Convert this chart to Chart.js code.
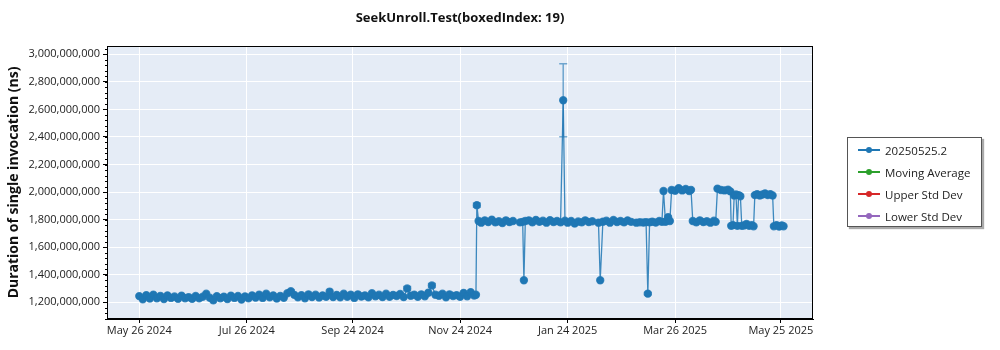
<!DOCTYPE html>
<html>
<head>
<meta charset="utf-8">
<script src="https://cdn.jsdelivr.net/npm/chart.js@4.4.1/dist/chart.umd.min.js"></script>
<style>
  body { margin: 0; background: #fff; font-family: "Open Sans", sans-serif; }
  #wrap { position: relative; width: 1000px; height: 350px; }
  #legend {
    position: absolute; left: 847px; top: 137px; width: 135px; height: 90px;
    border: 1px solid #555; background: #fff; box-shadow: 2px 2px 1px #aaa;
    box-sizing: border-box; padding-top: 1px;
  }
  .item { height: 22px; display: flex; align-items: center; font-size: 11.5px; color: #222; }
  .icon { position: relative; width: 22px; height: 2px; margin-left: 10px; margin-right: 5px; }
  .icon span { position: absolute; left: 8px; top: -2px; width: 6px; height: 6px; border-radius: 50%; }
</style>
</head>
<body>
<div id="wrap">
  <canvas id="chart" width="1000" height="350"></canvas>
  <div id="legend"></div>
</div>
<script>
// x values are days since May 26 2024
const tickDays = [0, 61, 121, 182, 243, 304, 364];
const tickLabels = ['May 26 2024', 'Jul 26 2024', 'Sep 24 2024', 'Nov 24 2024', 'Jan 24 2025', 'Mar 26 2025', 'May 25 2025'];
const yTickValues = [1200000000, 1400000000, 1600000000, 1800000000, 2000000000, 2200000000, 2400000000, 2600000000, 2800000000, 3000000000];

const legendNames = ['20250525.2', 'Moving Average', 'Upper Std Dev', 'Lower Std Dev'];
const legendColors = ['#1f77b4', '#2ca02c', '#d62728', '#9467bd'];

const days = [
  0, 2, 4, 6, 8, 10, 12, 14, 16, 18,
  20, 22, 24, 26, 28, 30, 32, 34, 36, 38,
  40, 42, 44, 46, 48, 50, 52, 54, 56, 58,
  60, 62, 64, 66, 68, 70, 72, 74, 76, 78,
  80, 82, 84, 86, 88, 90, 92, 94, 96, 98,
  100, 102, 104, 106, 108, 110, 112, 114, 116, 118,
  120, 122, 124, 126, 128, 130, 132, 134, 136, 138,
  140, 142, 144, 146, 148, 150, 152, 154, 156, 158,
  160, 162, 164, 166, 168, 170, 172, 174, 176, 178,
  180, 182, 184, 186, 188, 190, 191,
  191.5, 192.5, 194, 196, 198, 200, 202, 204, 206, 208, 210, 212,
  216, 217.5, 218.2, 219, 221, 223, 225, 227, 229, 231, 233, 235, 237, 239,
  240.5, 241.5, 243, 245, 247, 249, 251, 253, 255, 257, 260.5, 261.5,
  263, 265, 267, 269, 271, 273, 275, 277, 279,
  282, 284, 286, 287.5, 288.5, 289.5, 291, 293, 295, 296.5, 297.4, 298.5, 300, 301,
  302, 304, 306, 308, 310, 312, 313, 314, 316, 318, 320, 322, 324, 326, 327,
  328, 330, 332, 334, 335.3, 335.8, 336.8, 337.5, 338.5, 339.3, 340, 341, 341.8,
  343, 344.5, 346, 347.5, 348.5, 349.2, 350.5, 352, 353.5, 355, 356.5, 358, 359.3,
  360, 361.5, 363, 364.5, 365.5
];

// duration in millions of ns
const durations = [
  1245, 1222, 1252, 1228, 1256, 1230, 1247, 1224, 1250, 1232,
  1242, 1226, 1248, 1230, 1238, 1225, 1246, 1229, 1240, 1262,
  1233, 1214, 1245, 1230, 1241, 1224, 1248, 1232, 1246, 1220,
  1243, 1229, 1250, 1234, 1256, 1232, 1262, 1236, 1250, 1228,
  1247, 1233, 1266, 1280, 1254, 1236, 1252, 1230, 1258, 1238,
  1255, 1235, 1250, 1240, 1278, 1238, 1254, 1236, 1262, 1240,
  1256, 1232, 1258, 1242, 1250, 1236, 1266, 1244, 1255, 1238,
  1262, 1240, 1254, 1246, 1260, 1238, 1300, 1248, 1256, 1240,
  1258, 1244, 1270, 1322, 1255, 1248, 1262, 1236, 1258, 1246,
  1252, 1240, 1268, 1244, 1274, 1250, 1255,
  1905, 1790, 1778, 1795, 1782, 1800, 1780, 1788, 1776, 1795, 1782, 1790,
  1780, 1784, 1360, 1790, 1795, 1780, 1798, 1784, 1792, 1778, 1796, 1783, 1790, 1780,
  2666, 1792, 1778, 1790, 1772, 1786, 1780, 1795, 1782, 1788, 1778, 1360,
  1785, 1792, 1778, 1797, 1783, 1790, 1780, 1794, 1784,
  1778, 1781, 1779, 1782, 1263, 1780, 1785, 1779, 1790, 1784, 2008, 1785, 1818, 1790,
  2015, 2010, 2028, 2012, 2022, 2008, 2016, 1790, 1780, 1795, 1782, 1788, 1778, 1792, 1784,
  2025, 2015, 2012, 2018, 2005, 1755, 1760, 1975, 1982, 1755, 1978, 1970, 1755,
  1758, 1768, 1755, 1760, 1752, 1978, 1985, 1975, 1982, 1990, 1978, 1985, 1975,
  1752, 1760, 1750, 1758, 1752
];

// visible standard deviation bars (millions of ns)
const errDays = [86, 152, 166, 191.5, 240.5, 288.5];
const errSizes = [10, 14, 14, 16, 265, 8];

const points = days.map((d, i) => ({ x: d, y: durations[i] * 1e6 }));

const plotStyle = {
  id: 'plotStyle',
  beforeDraw(chart) {
    const { ctx, chartArea: a } = chart;
    ctx.save();
    ctx.fillStyle = '#e5ecf6';
    ctx.fillRect(a.left, a.top, a.right - a.left, a.bottom - a.top);
    ctx.restore();
  },
  afterDatasetsDraw(chart) {
    const { ctx } = chart;
    const xs = chart.scales.x, ys = chart.scales.y;
    ctx.save();
    ctx.strokeStyle = 'rgba(31,119,180,0.6)';
    ctx.lineWidth = 1.5;
    errDays.forEach((d, k) => {
      const i = days.indexOf(d);
      const x = xs.getPixelForValue(d);
      const hi = ys.getPixelForValue((durations[i] + errSizes[k]) * 1e6);
      const lo = ys.getPixelForValue((durations[i] - errSizes[k]) * 1e6);
      ctx.beginPath();
      ctx.moveTo(x, hi); ctx.lineTo(x, lo);
      ctx.moveTo(x - 4, hi); ctx.lineTo(x + 4, hi);
      ctx.moveTo(x - 4, lo); ctx.lineTo(x + 4, lo);
      ctx.stroke();
    });
    ctx.restore();
  },
  afterDraw(chart) {
    const { ctx, chartArea: a } = chart;
    const ys = chart.scales.y;
    ctx.save();
    ctx.strokeStyle = '#000';
    ctx.lineWidth = 1;
    ctx.strokeRect(a.left + 0.5, a.top + 0.5, a.right - a.left - 1, a.bottom - a.top - 1);
    // minor ticks on the y axis
    ctx.beginPath();
    for (let v = ys.min; v <= ys.max; v += 40000000) {
      const snapped = Math.ceil(v / 40000000) * 40000000;
      const y = Math.round(ys.getPixelForValue(snapped)) + 0.5;
      ctx.moveTo(a.left - 2, y); ctx.lineTo(a.left, y);
    }
    ctx.stroke();
    ctx.restore();
  }
};

new Chart(document.getElementById('chart'), {
  type: 'line',
  data: {
    datasets: [{
      label: legendNames[0],
      data: points,
      borderColor: 'rgba(31,119,180,0.85)',
      borderWidth: 1.3,
      pointRadius: 3.6,
      pointBackgroundColor: '#1f77b4',
      pointBorderColor: 'rgba(31,119,180,0.8)',
      pointBorderWidth: 1.2,
      tension: 0
    }]
  },
  options: {
    responsive: false,
    animation: false,
    layout: { padding: { left: 0, right: 187, top: 0, bottom: 0 } },
    plugins: {
      legend: { display: false },
      tooltip: { enabled: false },
      title: {
        display: true,
        fullSize: false,
        text: 'SeekUnroll.Test(boxedIndex: 19)',
        color: '#111',
        font: { family: 'Open Sans', size: 13, weight: 'bold' },
        padding: { top: 10, bottom: 20.4 }
      }
    },
    scales: {
      x: {
        type: 'linear',
        min: -18.3,
        max: 382.2,
        afterFit(s) { s.height = 31; },
        afterBuildTicks(s) { s.ticks = tickDays.map(v => ({ value: v })); },
        grid: { color: '#ffffff', lineWidth: 1, tickColor: '#000', tickLength: 4 },
        border: { display: true, color: '#000' },
        ticks: {
          autoSkip: false,
          maxRotation: 0,
          padding: 1,
          color: '#222',
          font: { family: 'Open Sans', size: 11 },
          callback: (v) => tickLabels[tickDays.indexOf(v)]
        }
      },
      y: {
        min: 1079000000,
        max: 3060000000,
        afterFit(s) { s.width = 107; },
        afterBuildTicks(s) { s.ticks = yTickValues.map(v => ({ value: v })); },
        grid: { color: '#ffffff', lineWidth: 1, tickColor: '#000', tickLength: 4 },
        border: { display: true, color: '#000' },
        title: {
          display: true,
          text: 'Duration of single invocation (ns)',
          color: '#111',
          font: { family: 'Open Sans', size: 14, weight: 'bold' },
          padding: { top: 6, bottom: 4 }
        },
        ticks: {
          padding: 3,
          color: '#222',
          font: { family: 'Open Sans', size: 11 },
          callback: (v) => v.toLocaleString('en-US')
        }
      }
    }
  },
  plugins: [plotStyle]
});

const legend = document.getElementById('legend');
legendNames.forEach((name, i) => {
  const row = document.createElement('div');
  row.className = 'item';
  row.innerHTML = '<div class="icon" style="background:' + legendColors[i] + '"><span style="background:' +
    legendColors[i] + '"></span></div>' + name;
  legend.appendChild(row);
});
</script>
</body>
</html>
